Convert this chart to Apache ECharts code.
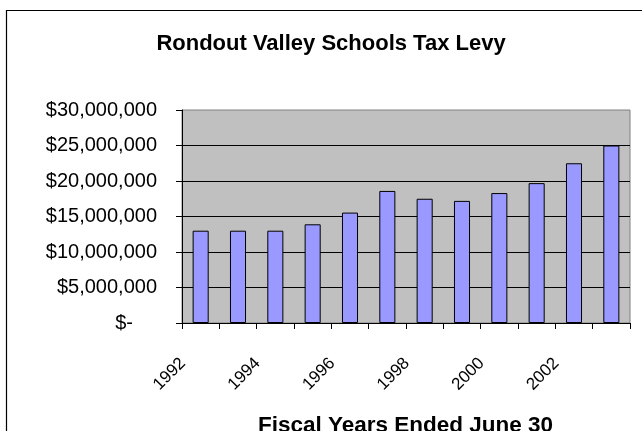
<!DOCTYPE html>
<html>
<head>
<meta charset="utf-8">
<script src="https://cdn.jsdelivr.net/npm/echarts@6/dist/echarts.min.js"></script>
<style>
html,body{margin:0;padding:0;background:#fff;}
#c{width:642px;height:431px;}
</style>
</head>
<body>
<div id="c"></div>
<script>
var years = ['1992','1993','1994','1995','1996','1997','1998','1999','2000','2001','2002','2003'];
var levy = [13000000, 13000000, 13000000, 13900000, 15550000, 18600000, 17500000, 17200000, 18300000, 19700000, 22500000, 25000000];
var yTicks = {min: 0, max: 30000000, interval: 5000000};
var titleText = 'Rondout Valley Schools Tax Levy';
var xTitle = 'Fiscal Years Ended June 30';

var FONT = '"Liberation Sans", Arial, sans-serif';
var NARROW = '"Liberation Sans Narrow", "Arial Narrow", "Liberation Sans", sans-serif';
var chart = echarts.init(document.getElementById('c'), null, {renderer: 'canvas'});
chart.setOption({
  animation: false,
  backgroundColor: '#fff',
  grid: {left: 182, right: 12, top: 110, bottom: 108, show: true,
         backgroundColor: '#C0C0C0', borderColor: '#808080', borderWidth: 1},
  xAxis: {
    type: 'category', data: years, boundaryGap: true,
    axisLine: {lineStyle: {color: '#000', width: 1}},
    axisTick: {show: true, inside: false, length: 6, interval: 0, alignWithLabel: false, lineStyle: {color: '#000'}},
    axisLabel: {interval: 1, rotate: 45, margin: 20, color: '#000', fontFamily: NARROW, fontSize: 17,
                padding: [0, 25, 0, 0]},
    splitLine: {show: false}
  },
  yAxis: {
    type: 'value', min: yTicks.min, max: yTicks.max, interval: yTicks.interval,
    axisLine: {show: true, lineStyle: {color: '#000', width: 1}},
    axisTick: {show: true, inside: false, length: 6, lineStyle: {color: '#000'}},
    axisLabel: {margin: 25, color: '#000', fontFamily: FONT, fontSize: 20,
      formatter: function (v) {
        if (v === 0) return '{z|$-}';
        return '$' + v.toLocaleString('en-US');
      },
      rich: {z: {fontFamily: FONT, fontSize: 20, color: '#000', padding: [0, 24, 0, 0]}}
    },
    splitLine: {show: true, showMaxLine: false, lineStyle: {color: '#000', width: 1}}
  },
  series: [{
    type: 'bar', data: levy, barWidth: '43%',
    itemStyle: {color: '#9999FF', borderColor: '#000', borderWidth: 1}
  }],
  graphic: [
    {type: 'rect', silent: true, shape: {x: 6.5, y: 10.5, width: 700, height: 500},
     style: {fill: 'none', stroke: '#000', lineWidth: 1.2}},
    {type: 'text', silent: true, style: {text: titleText, x: 331, y: 44, textAlign: 'center', textVerticalAlign: 'middle',
     font: 'bold 22px ' + FONT, fill: '#000'}},
    {type: 'text', silent: true, style: {text: xTitle, x: 405.5, y: 426, textAlign: 'center', textVerticalAlign: 'middle',
     font: 'bold 22.5px ' + FONT, fill: '#000'}}
  ]
});
</script>
</body>
</html>
